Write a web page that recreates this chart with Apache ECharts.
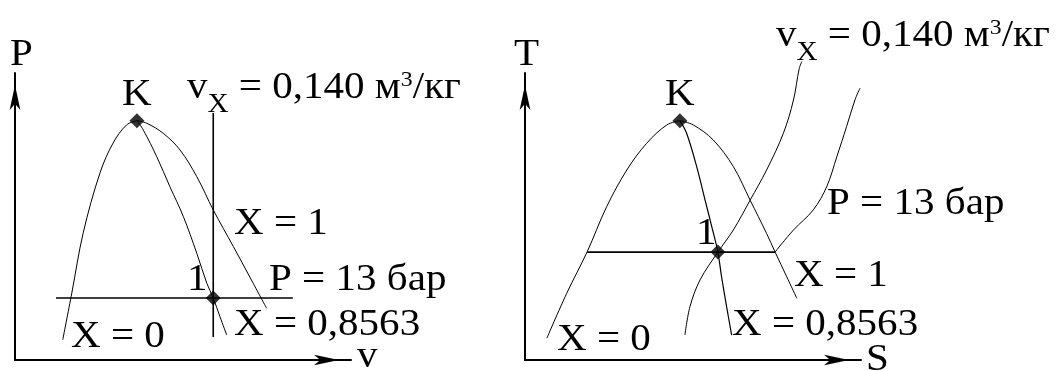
<!DOCTYPE html>
<html lang="ru">
<head>
<meta charset="utf-8">
<script src="https://cdn.jsdelivr.net/npm/echarts@6/dist/echarts.min.js"></script>
<style>
  html, body { margin: 0; padding: 0; background: #fff; }
  #wrap { position: relative; width: 1064px; height: 371px; }
  #chart, #labels { position: absolute; left: 0; top: 0; width: 1064px; height: 371px; }
  #labels { pointer-events: none; }
</style>
</head>
<body>
<div id="wrap">
  <div id="chart"></div>
  <div id="labels"></div>
</div>
<script>
// ---- P–v diagram (relative units, 0..100 on both axes) ----
const pvLiquidLine  = [[14.2, 7.0], [16.9, 23.3], [20.3, 44.3], [25.3, 65.2], [29.2, 75.6], [33.2, 81.9], [36.3, 83.4]];           // X = 0
const pvVapourLine  = [[36.3, 83.4], [39.2, 82.5], [44.1, 79.0], [49.1, 73.2], [54.1, 63.9], [59.0, 52.3], [65.0, 39.5], [70.9, 26.7], [74.9, 18.0]]; // X = 1
const pvQualityLine = [[36.3, 83.4], [38.2, 80.1], [42.2, 70.8], [46.1, 60.4], [50.1, 50.0], [54.1, 37.2], [57.1, 26.7], [59.0, 21.6], [61.0, 15.1], [63.0, 8.7]]; // X = 0,8563
const pvIsochore    = [[59.0, 8.0], [59.0, 86.1]];   // v = 0,140 m3/kg
const pvIsobar      = [[12.2, 21.6], [82.7, 21.6]];  // P = 13 bar
const pvCritical    = [36.3, 83.4];                   // K
const pvState1      = [59.0, 21.6];                   // state 1

// ---- T–s diagram (relative units, 0..100 on both axes) ----
const tsLiquidLine  = [[6.5, 7.6], [12.4, 23.2], [18.5, 37.7], [24.3, 53.4], [30.3, 66.2], [36.2, 75.5], [42.2, 81.9], [46.1, 83.4]];
const tsVapourLine  = [[46.1, 83.4], [50.1, 81.9], [56.0, 76.7], [62.0, 67.4], [67.0, 55.7], [71.9, 44.1], [74.4, 37.7], [77.9, 29.0], [80.9, 21.5]];
const tsQualityLine = [[46.1, 83.4], [48.1, 79.0], [51.1, 67.4], [53.6, 55.7], [55.6, 46.4], [57.4, 37.6], [58.5, 29.0], [60.0, 18.6], [61.5, 8.7]];
const tsIsochore    = [[47.6, 8.7], [49.1, 18.6], [52.1, 27.9], [57.4, 37.6], [62.0, 45.3], [67.0, 55.7], [71.9, 66.2], [76.9, 79.0], [79.9, 90.6], [81.6, 101.5], [82.4, 104.0]];
const tsIsobarFlat  = [[18.5, 37.6], [74.4, 37.6]];
const tsIsobarSuper = [[74.4, 37.6], [79.9, 45.3], [85.8, 52.3], [89.8, 60.4], [92.8, 70.8], [95.7, 81.3], [98.2, 90.6], [99.7, 94.7]];
const tsCritical    = [46.1, 83.4];
const tsState1      = [57.4, 37.6];

// ---- label texts ----
const labelX0 = 'X = 0';
const labelX1 = 'X = 1';
const labelXq = 'X = 0,8563';
const labelP  = 'P = 13 бар';
const labelV  = '{m|v}{s|X}{m| = 0,140 м}{p|3}{m|/кг}';

const FONT = 'Liberation Serif';
const INK = '#000';
const SIZE = 38;
const STRETCH = 1.08;

function axis(gridIndex) {
  return {
    gridIndex, type: 'value', min: 0, max: 100,
    axisLine: { show: true, symbol: ['none', 'arrow'], symbolSize: [8, 25], symbolOffset: [0, -12],
                lineStyle: { color: INK, width: 2 } },
    axisTick: { show: false }, axisLabel: { show: false }, splitLine: { show: false }
  };
}

function curve(data, g, width, smooth) {
  return {
    type: 'line', data, xAxisIndex: g, yAxisIndex: g,
    smooth: smooth ? 0.35 : false, showSymbol: false, clip: false, silent: true,
    lineStyle: { color: INK, width }
  };
}

function dots(data, g) {
  return {
    type: 'scatter', data, xAxisIndex: g, yAxisIndex: g, symbol: 'diamond', symbolSize: 15,
    itemStyle: { color: INK }, silent: true, clip: false, z: 5
  };
}

// plain label: (x, y) = left edge and vertical centre of the capitals
function txt(text, x, y) {
  return {
    type: 'text', x, y, scaleX: STRETCH,
    style: { text, fontFamily: FONT, fontSize: SIZE, fill: INK, align: 'left', verticalAlign: 'middle' }
  };
}

// specific-volume label with subscript and superscript
function richTxt(x, y) {
  return {
    type: 'text', x, y, scaleX: STRETCH,
    style: {
      text: labelV, fontFamily: FONT, fontSize: SIZE, fill: INK, align: 'left', verticalAlign: 'top',
      rich: {
        m: { fontFamily: FONT, fontSize: SIZE, lineHeight: SIZE, verticalAlign: 'top' },
        s: { fontFamily: FONT, fontSize: 27, lineHeight: 27, verticalAlign: 'top', padding: [22, 0, 0, 0] },
        p: { fontFamily: FONT, fontSize: 22, lineHeight: 22, verticalAlign: 'top' }
      }
    }
  };
}

// curves, axes and state points
const chart = echarts.init(document.getElementById('chart'));
chart.setOption({
  animation: false,
  backgroundColor: '#fff',
  grid: [
    { left: 15, top: 73, width: 336, height: 287 },
    { left: 525, top: 73, width: 336, height: 287 }
  ],
  xAxis: [axis(0), axis(1)],
  yAxis: [axis(0), axis(1)],
  series: [
    curve(pvLiquidLine, 0, 1, true),
    curve(pvVapourLine, 0, 1, true),
    curve(pvQualityLine, 0, 1, true),
    curve(pvIsochore, 0, 1.6, false),
    curve(pvIsobar, 0, 1.6, false),
    dots([pvCritical, pvState1], 0),

    curve(tsLiquidLine, 1, 1, true),
    curve(tsVapourLine, 1, 1, true),
    curve(tsQualityLine, 1, 1.2, true),
    curve(tsIsochore, 1, 1, true),
    curve(tsIsobarFlat, 1, 1.6, false),
    curve(tsIsobarSuper, 1, 1, true),
    dots([tsCritical, tsState1], 1)
  ]
});

// annotation layer on top of the diagrams
const labels = echarts.init(document.getElementById('labels'));
labels.setOption({
  animation: false,
  graphic: [
    // P–v
    txt('P', 10, 55),
    txt('K', 122, 95),
    txt('1', 187, 280),
    txt(labelX1, 234, 224),
    txt(labelP, 269, 280),
    txt(labelXq, 234, 325),
    txt(labelX0, 71, 337),
    txt('v', 357, 357),
    richTxt(187, 69),
    // T–s
    txt('T', 514, 55),
    txt('K', 665, 95),
    txt('1', 696, 234),
    txt(labelP, 827, 204),
    txt(labelX1, 794, 276),
    txt(labelXq, 732, 325),
    txt(labelX0, 557, 340),
    txt('S', 866, 360),
    richTxt(776, 17)
  ]
});
</script>
</body>
</html>
